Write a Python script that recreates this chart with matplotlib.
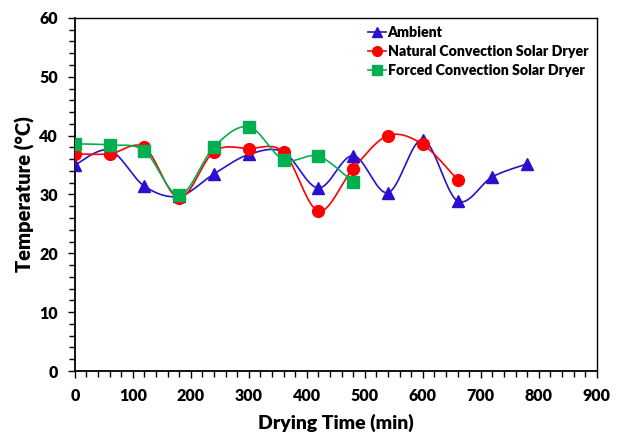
import numpy as np
import matplotlib
matplotlib.use("Agg")
import matplotlib.pyplot as plt

# Data
time_ambient = [0, 60, 120, 180, 240, 300, 360, 420, 480, 540, 600, 660, 720, 780]
temp_ambient = [35.0, 37.5, 31.4, 29.7, 33.5, 36.8, 37.2, 31.1, 36.6, 30.3, 39.3, 28.9, 33.0, 35.2]

time_natural = [0, 60, 120, 180, 240, 300, 360, 420, 480, 540, 600, 660]
temp_natural = [36.9, 36.9, 38.0, 29.4, 37.3, 37.8, 37.2, 27.2, 34.4, 40.0, 38.5, 32.5]

time_forced = [0, 60, 120, 180, 240, 300, 360, 420, 480]
temp_forced = [38.6, 38.4, 37.4, 29.9, 38.1, 41.5, 35.9, 36.5, 32.1]

plt.rcParams['font.family'] = ['Lato', 'DejaVu Sans']


# Excel-like smoothed line (cardinal bezier through the points)
def smooth(x, y, n=30):
    x = np.asarray(x, float)
    y = np.asarray(y, float)
    xs, ys = [], []
    for i in range(len(x) - 1):
        p0 = np.array([x[max(i - 1, 0)], y[max(i - 1, 0)]])
        p1 = np.array([x[i], y[i]])
        p2 = np.array([x[i + 1], y[i + 1]])
        p3 = np.array([x[min(i + 2, len(x) - 1)], y[min(i + 2, len(x) - 1)]])
        c1 = p1 + (p2 - p0) / 6
        c2 = p2 - (p3 - p1) / 6
        t = np.linspace(0, 1, n)[:, None]
        pts = ((1 - t) ** 3) * p1 + 3 * ((1 - t) ** 2) * t * c1 + 3 * (1 - t) * t ** 2 * c2 + t ** 3 * p2
        xs.extend(pts[:, 0])
        ys.extend(pts[:, 1])
    return xs, ys


fig = plt.figure(figsize=(6.19, 4.37), dpi=100)
ax = fig.add_axes([0.121, 0.151, 0.843, 0.808])

series = [
    (time_ambient, temp_ambient, '#2A0FCC', '^', 'Ambient'),
    (time_natural, temp_natural, '#FF0000', 'o', 'Natural Convection Solar Dryer'),
    (time_forced, temp_forced, '#00B050', 's', 'Forced Convection Solar Dryer'),
]
handles = []
for tx, ty, col, mk, lab in series:
    sx, sy = smooth(tx, ty)
    ax.plot(sx, sy, color=col, lw=1.2, zorder=2)
    ax.plot(tx, ty, linestyle='none', marker=mk, color=col, ms=8.5, zorder=3)
    h, = ax.plot([], [], color=col, lw=1.2, marker=mk, ms=7, label=lab)
    handles.append(h)

ax.set_xlim(0, 900)
ax.set_ylim(0, 60)
ax.set_xticks(np.arange(0, 901, 100))
ax.set_yticks(np.arange(0, 61, 10))
ax.set_xticks(np.arange(0, 901, 20), minor=True)
ax.set_yticks(np.arange(0, 61, 2), minor=True)
ax.tick_params(which='major', direction='out', length=5, width=1, labelsize=11.5, pad=7)
ax.tick_params(which='minor', direction='out', length=4, width=1)
for lbl in ax.get_xticklabels() + ax.get_yticklabels():
    lbl.set_fontweight('heavy')
for s in ['left', 'bottom']:
    ax.spines[s].set_linewidth(1.3)
for s in ['top', 'right']:
    ax.spines[s].set_linewidth(1.0)

ax.set_xlabel('Drying Time (min)', fontsize=14, fontweight='heavy', labelpad=7)
ax.set_ylabel('Temperature (°C)', fontsize=14.5, fontweight='heavy', labelpad=3)

leg = ax.legend(handles=handles, loc='upper right', bbox_to_anchor=(1.0, 1.0),
                frameon=False, fontsize=10.2, handlelength=1.3, handletextpad=0.1,
                labelspacing=0.4, borderaxespad=0.2)
for t in leg.get_texts():
    t.set_fontweight('heavy')

fig.savefig('out.png', dpi=100)
